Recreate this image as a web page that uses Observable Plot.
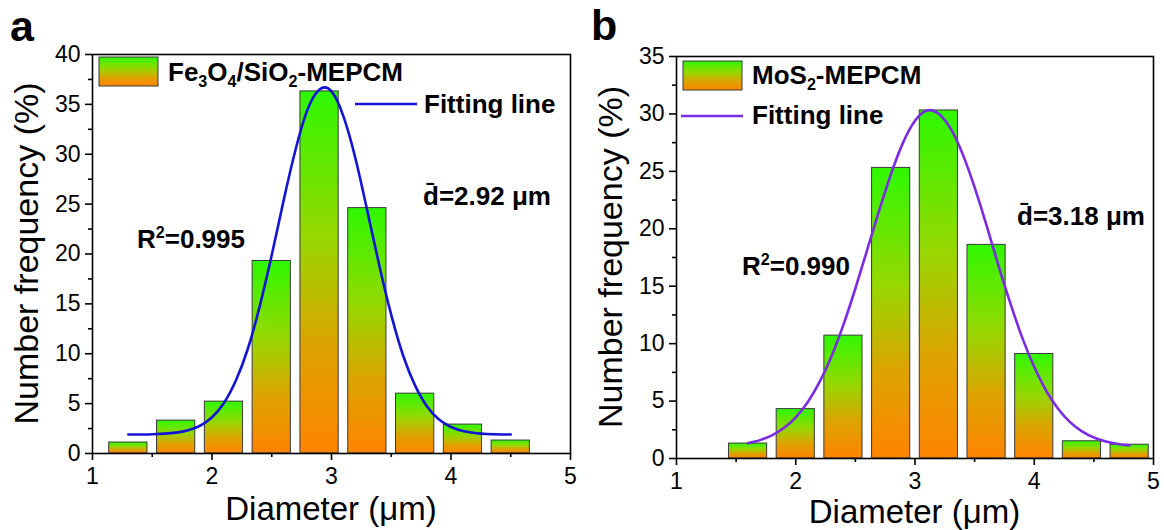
<!DOCTYPE html>
<html><head><meta charset="utf-8">
<script src="https://cdn.jsdelivr.net/npm/d3@7"></script>
<script src="https://cdn.jsdelivr.net/npm/@observablehq/plot@0.6"></script>
<style>
body{margin:0;background:#fff;}
#wrap{display:flex;width:1164px;height:530px;}
#wrap > div{width:582px;height:530px;}
svg{font-family:"Liberation Sans",Arial,sans-serif;}
</style></head><body><div id="wrap"><div id="pa"></div><div id="pb"></div></div>
<script>
// ---- Panel a: Fe3O4/SiO2-MEPCM ----
const binsA = [1.3, 1.7, 2.1, 2.5, 2.9, 3.3, 3.7, 4.1, 4.5];
const freqA = [1.1, 3.3, 5.2, 19.3, 36.3, 24.6, 6.0, 2.9, 1.3];
const fitXA = [1.3, 1.5, 1.7, 1.8, 1.9, 2.0, 2.1, 2.2, 2.3, 2.4, 2.5, 2.6, 2.7, 2.8, 2.9, 3.0, 3.1, 3.2, 3.3, 3.4, 3.5, 3.6, 3.7, 3.8, 3.9, 4.0, 4.1, 4.2, 4.3, 4.5];
const fitYA = [1.9, 1.93, 2.09, 2.32, 2.78, 3.63, 5.06, 7.31, 10.5, 14.8, 19.9, 25.4, 30.5, 34.5, 36.5, 36.3, 33.8, 29.6, 24.3, 18.85, 13.9, 9.8, 6.8, 4.7, 3.4, 2.66, 2.26, 2.06, 1.96, 1.9];
const yTicksA = [0, 5, 10, 15, 20, 25, 30, 35, 40];
const yMinorA = [2.5, 7.5, 12.5, 17.5, 22.5, 27.5, 32.5, 37.5];

// ---- Panel b: MoS2-MEPCM ----
const binsB = [1.6, 2.0, 2.4, 2.8, 3.2, 3.6, 4.0, 4.4, 4.8];
const freqB = [1.3, 4.3, 10.7, 25.3, 30.3, 18.6, 9.1, 1.5, 1.2];
const fitXB = [1.6, 1.7, 1.8, 1.9, 2.0, 2.1, 2.2, 2.3, 2.4, 2.5, 2.6, 2.7, 2.8, 2.9, 3.0, 3.1, 3.2, 3.3, 3.4, 3.5, 3.6, 3.7, 3.8, 3.9, 4.0, 4.1, 4.2, 4.3, 4.4, 4.5, 4.6, 4.7, 4.8];
const fitYB = [1.34, 1.6, 2.02, 2.65, 3.59, 4.9, 6.67, 8.91, 11.65, 14.8, 18.2, 21.6, 24.8, 27.5, 29.4, 30.3, 30.0, 28.7, 26.5, 23.6, 20.3, 16.8, 13.5, 10.5, 7.96, 5.9, 4.33, 3.17, 2.37, 1.83, 1.48, 1.27, 1.15];
const yTicksB = [0, 5, 10, 15, 20, 25, 30, 35];
const yMinorB = [2.5, 7.5, 12.5, 17.5, 22.5, 27.5, 32.5];

const xTicks = [1, 2, 3, 4, 5];
const xMinor = [1.5, 2.5, 3.5, 4.5];
const xTitle = "Diameter (μm)";
const yTitle = "Number frequency (%)";

const FONT = "'Liberation Sans', Arial, sans-serif";

function rich(sel, x, y, parts, size, weight) {
  const t = sel.append("text").attr("x", x).attr("y", y)
    .attr("font-size", size).attr("font-weight", weight || "bold")
    .attr("font-family", FONT).attr("fill", "black").attr("text-anchor", "start");
  let shift = 0;
  for (const [txt, kind] of parts) {
    const sp = t.append("tspan").text(txt);
    let target = 0;
    if (kind === "sub") { target = 0.24 * size; sp.attr("font-size", 0.62 * size); }
    else if (kind === "sup") { target = -0.4 * size; sp.attr("font-size", 0.62 * size); }
    sp.attr("dy", target - shift);
    shift = target;
  }
  return t;
}

function panel(cfg) {
  const bars = cfg.bins.map((x, i) => ({x, y: cfg.freq[i]}));
  const fit = cfg.fitX.map((x, i) => ({x, y: cfg.fitY[i]}));
  const svg = Plot.plot({
    width: 582, height: 530,
    marginLeft: cfg.mL, marginRight: cfg.mR, marginTop: cfg.mT, marginBottom: cfg.mB,
    x: {domain: [1, 5]},
    y: {domain: [0, cfg.yMax]},
    style: {fontFamily: FONT, fontSize: "23px", color: "black", background: "white", overflow: "visible"},
    marks: [
      Plot.rectY(bars, {x1: d => d.x - 0.16, x2: d => d.x + 0.16, y1: 0, y2: "y",
        fill: `url(#${cfg.gradId})`, stroke: "#3a3a3a", strokeWidth: 1}),
      Plot.line(fit, {x: "x", y: "y", stroke: cfg.lineColor, strokeWidth: 2.6, curve: "natural"}),
      Plot.frame({stroke: "black", strokeWidth: 1.6}),
      Plot.axisX(xTicks, {tickSize: 7, tickPadding: 7, fontSize: 23, label: null, strokeWidth: 1.6, tickFormat: d => String(d)}),
      Plot.axisX(xMinor, {tickSize: 4, tickFormat: () => "", label: null, strokeWidth: 1.6}),
      Plot.axisY(cfg.yTicks, {tickSize: 7, tickPadding: 5, fontSize: 23, label: null, strokeWidth: 1.6, tickFormat: d => String(d)}),
      Plot.axisY(cfg.yMinor, {tickSize: 4, tickFormat: () => "", label: null, strokeWidth: 1.6})
    ]
  });
  const s = d3.select(svg);
  const defs = s.insert("defs", ":first-child");
  const grad = defs.append("linearGradient").attr("id", cfg.gradId)
    .attr("x1", 0).attr("y1", 0).attr("x2", 0).attr("y2", 1);
  [[0, "#2ef800"], [0.4, "#96d800"], [0.7, "#dca400"], [1, "#ff8400"]].forEach(([o, c]) =>
    grad.append("stop").attr("offset", o).attr("stop-color", c));

  const g = s.append("g").attr("text-anchor", "start");
  // panel letter
  rich(g, cfg.letterX, cfg.letterY, [[cfg.letter, "n"]], 43, "bold");
  // axis titles
  const fx = (cfg.mL + 582 - cfg.mR) / 2;
  rich(g, fx, cfg.xTitleY, [[xTitle, "n"]], 33, "normal").attr("text-anchor", "middle");
  const fy = (cfg.mT + 530 - cfg.mB) / 2;
  g.append("text").attr("transform", `translate(${cfg.yTitleX},${fy}) rotate(-90)`)
    .attr("text-anchor", "middle").attr("font-size", 34).attr("font-family", FONT).text(yTitle);
  // legend: swatch + label
  g.append("rect").attr("x", cfg.leg.rx).attr("y", cfg.leg.ry).attr("width", 59).attr("height", 29)
    .attr("fill", `url(#${cfg.gradId})`).attr("stroke", "#3a3a3a").attr("stroke-width", 1);
  rich(g, cfg.leg.tx, cfg.leg.ty, cfg.name, 26, "bold");
  g.append("line").attr("x1", cfg.leg.lx1).attr("x2", cfg.leg.lx2).attr("y1", cfg.leg.ly).attr("y2", cfg.leg.ly)
    .attr("stroke", cfg.lineColor).attr("stroke-width", 2.6);
  rich(g, cfg.leg.ftx, cfg.leg.fty, [["Fitting line", "n"]], 26, "bold");
  // annotations
  rich(g, cfg.r2.x, cfg.r2.y, [["R", "n"], ["2", "sup"], ["=" + cfg.r2.v, "n"]], 26, "bold");
  rich(g, cfg.dm.x, cfg.dm.y, [["d\u0304=" + cfg.dm.v + " μm", "n"]], 26, "bold");
  document.getElementById(cfg.el).appendChild(svg);
}

panel({
  el: "pa", gradId: "gradA", letter: "a", letterX: 10, letterY: 41,
  bins: binsA, freq: freqA, fitX: fitXA, fitY: fitYA, yTicks: yTicksA, yMinor: yMinorA, yMax: 40,
  mL: 92, mR: 12, mT: 54, mB: 77, lineColor: "#1414d4",
  xTitleY: 520, yTitleX: 38,
  name: [["Fe", "n"], ["3", "sub"], ["O", "n"], ["4", "sub"], ["/SiO", "n"], ["2", "sub"], ["-MEPCM", "n"]],
  leg: {rx: 99, ry: 57, tx: 168, ty: 81, lx1: 355, lx2: 417, ly: 104, ftx: 424, fty: 113},
  r2: {x: 137, y: 248, v: "0.995"},
  dm: {x: 423, y: 205, v: "2.92"}
});
panel({
  el: "pb", gradId: "gradB", letter: "b", letterX: 9, letterY: 40,
  bins: binsB, freq: freqB, fitX: fitXB, fitY: fitYB, yTicks: yTicksB, yMinor: yMinorB, yMax: 35,
  mL: 94, mR: 11, mT: 56, mB: 72, lineColor: "#7b2be2",
  xTitleY: 523, yTitleX: 40,
  name: [["MoS", "n"], ["2", "sub"], ["-MEPCM", "n"]],
  leg: {rx: 101, ry: 61, tx: 170, ty: 84, lx1: 99, lx2: 161, ly: 116, ftx: 170, fty: 124},
  r2: {x: 160, y: 275, v: "0.990"},
  dm: {x: 435, y: 225, v: "3.18"}
});
</script></body></html>
